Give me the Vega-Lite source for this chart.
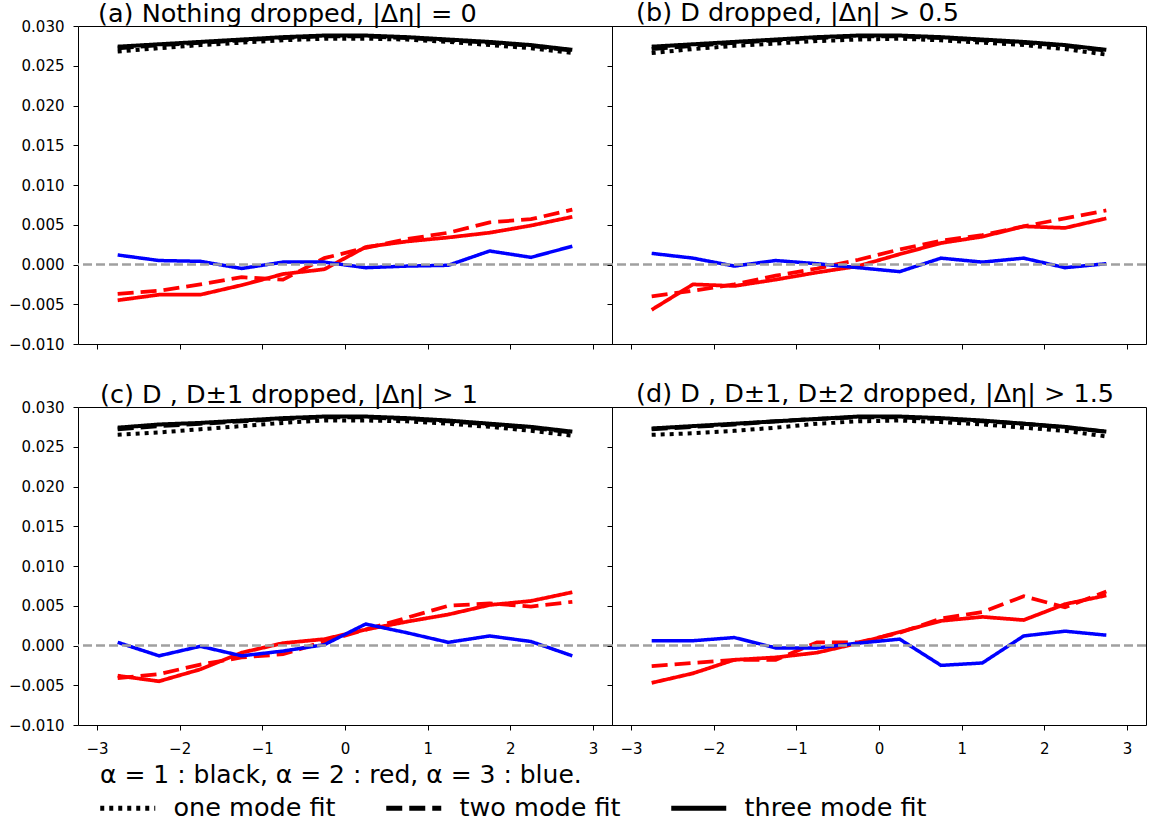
{
"$schema": "https://vega.github.io/schema/vega-lite/v6.json",
"padding": {"left": 7, "top": 0, "right": 16, "bottom": 5},
"background": "white",
"config": {
  "font": "DejaVu Sans",
  "view": {"stroke": "black", "strokeWidth": 1},
  "axis": {"grid": false, "domain": false, "tickColor": "black", "tickSize": 5, "tickWidth": 1, "labelColor": "black", "labelFontSize": 15, "labelFont": "DejaVu Sans", "labelOverlap": false},
  "title": {"anchor": "start", "frame": "group", "fontSize": 25.5, "fontWeight": "normal", "font": "DejaVu Sans", "offset": 0, "baseline": "alphabetic", "color": "black"},
  "legend": {"orient": "none", "legendX": 22, "legendY": 737, "direction": "horizontal", "padding": 0, "titleFontSize": 25, "titleFontWeight": "normal", "titleFont": "DejaVu Sans", "titleColor": "black", "titlePadding": 7, "titleLimit": 1000, "labelFontSize": 25.5, "labelFont": "DejaVu Sans", "labelColor": "black", "labelLimit": 400, "symbolSize": 400, "symbolStrokeWidth": 5, "symbolStrokeColor": "black", "symbolType": "M-1.25,0H4.25", "columnPadding": 40, "labelOffset": 48}
},
"data": {"values": [
{"panel":"a","fit":"one mode fit","alpha":"1","x":-2.75,"y":0.0268},{"panel":"a","fit":"one mode fit","alpha":"1","x":-2.25,"y":0.0272},{"panel":"a","fit":"one mode fit","alpha":"1","x":-1.75,"y":0.0276},{"panel":"a","fit":"one mode fit","alpha":"1","x":-1.25,"y":0.0279},{"panel":"a","fit":"one mode fit","alpha":"1","x":-0.75,"y":0.0282},{"panel":"a","fit":"one mode fit","alpha":"1","x":-0.25,"y":0.0284},{"panel":"a","fit":"one mode fit","alpha":"1","x":0.25,"y":0.0284},{"panel":"a","fit":"one mode fit","alpha":"1","x":0.75,"y":0.0283},{"panel":"a","fit":"one mode fit","alpha":"1","x":1.25,"y":0.0280},{"panel":"a","fit":"one mode fit","alpha":"1","x":1.75,"y":0.0276},{"panel":"a","fit":"one mode fit","alpha":"1","x":2.25,"y":0.0272},{"panel":"a","fit":"one mode fit","alpha":"1","x":2.75,"y":0.0266},
{"panel":"a","fit":"two mode fit","alpha":"1","x":-2.75,"y":0.0272},{"panel":"a","fit":"two mode fit","alpha":"1","x":-2.25,"y":0.0276},{"panel":"a","fit":"two mode fit","alpha":"1","x":-1.75,"y":0.0279},{"panel":"a","fit":"two mode fit","alpha":"1","x":-1.25,"y":0.0282},{"panel":"a","fit":"two mode fit","alpha":"1","x":-0.75,"y":0.0285},{"panel":"a","fit":"two mode fit","alpha":"1","x":-0.25,"y":0.0287},{"panel":"a","fit":"two mode fit","alpha":"1","x":0.25,"y":0.0287},{"panel":"a","fit":"two mode fit","alpha":"1","x":0.75,"y":0.0285},{"panel":"a","fit":"two mode fit","alpha":"1","x":1.25,"y":0.0282},{"panel":"a","fit":"two mode fit","alpha":"1","x":1.75,"y":0.0279},{"panel":"a","fit":"two mode fit","alpha":"1","x":2.25,"y":0.0275},{"panel":"a","fit":"two mode fit","alpha":"1","x":2.75,"y":0.0269},
{"panel":"a","fit":"three mode fit","alpha":"1","x":-2.75,"y":0.0274},{"panel":"a","fit":"three mode fit","alpha":"1","x":-2.25,"y":0.0277},{"panel":"a","fit":"three mode fit","alpha":"1","x":-1.75,"y":0.0280},{"panel":"a","fit":"three mode fit","alpha":"1","x":-1.25,"y":0.0283},{"panel":"a","fit":"three mode fit","alpha":"1","x":-0.75,"y":0.0286},{"panel":"a","fit":"three mode fit","alpha":"1","x":-0.25,"y":0.0288},{"panel":"a","fit":"three mode fit","alpha":"1","x":0.25,"y":0.0288},{"panel":"a","fit":"three mode fit","alpha":"1","x":0.75,"y":0.0286},{"panel":"a","fit":"three mode fit","alpha":"1","x":1.25,"y":0.0283},{"panel":"a","fit":"three mode fit","alpha":"1","x":1.75,"y":0.0280},{"panel":"a","fit":"three mode fit","alpha":"1","x":2.25,"y":0.0276},{"panel":"a","fit":"three mode fit","alpha":"1","x":2.75,"y":0.0270},
{"panel":"a","fit":"two mode fit","alpha":"2","x":-2.75,"y":-0.0037},{"panel":"a","fit":"two mode fit","alpha":"2","x":-2.25,"y":-0.0033},{"panel":"a","fit":"two mode fit","alpha":"2","x":-1.75,"y":-0.0025},{"panel":"a","fit":"two mode fit","alpha":"2","x":-1.25,"y":-0.0016},{"panel":"a","fit":"two mode fit","alpha":"2","x":-0.75,"y":-0.0019},{"panel":"a","fit":"two mode fit","alpha":"2","x":-0.25,"y":0.0008},{"panel":"a","fit":"two mode fit","alpha":"2","x":0.25,"y":0.0021},{"panel":"a","fit":"two mode fit","alpha":"2","x":0.75,"y":0.0032},{"panel":"a","fit":"two mode fit","alpha":"2","x":1.25,"y":0.0040},{"panel":"a","fit":"two mode fit","alpha":"2","x":1.75,"y":0.0053},{"panel":"a","fit":"two mode fit","alpha":"2","x":2.25,"y":0.0057},{"panel":"a","fit":"two mode fit","alpha":"2","x":2.75,"y":0.0069},
{"panel":"a","fit":"three mode fit","alpha":"2","x":-2.75,"y":-0.0045},{"panel":"a","fit":"three mode fit","alpha":"2","x":-2.25,"y":-0.0038},{"panel":"a","fit":"three mode fit","alpha":"2","x":-1.75,"y":-0.0038},{"panel":"a","fit":"three mode fit","alpha":"2","x":-1.25,"y":-0.0026},{"panel":"a","fit":"three mode fit","alpha":"2","x":-0.75,"y":-0.0012},{"panel":"a","fit":"three mode fit","alpha":"2","x":-0.25,"y":-0.0006},{"panel":"a","fit":"three mode fit","alpha":"2","x":0.25,"y":0.0022},{"panel":"a","fit":"three mode fit","alpha":"2","x":0.75,"y":0.0029},{"panel":"a","fit":"three mode fit","alpha":"2","x":1.25,"y":0.0034},{"panel":"a","fit":"three mode fit","alpha":"2","x":1.75,"y":0.0040},{"panel":"a","fit":"three mode fit","alpha":"2","x":2.25,"y":0.0049},{"panel":"a","fit":"three mode fit","alpha":"2","x":2.75,"y":0.0060},
{"panel":"a","fit":"three mode fit","alpha":"3","x":-2.75,"y":0.0012},{"panel":"a","fit":"three mode fit","alpha":"3","x":-2.25,"y":0.0005},{"panel":"a","fit":"three mode fit","alpha":"3","x":-1.75,"y":0.0004},{"panel":"a","fit":"three mode fit","alpha":"3","x":-1.25,"y":-0.0005},{"panel":"a","fit":"three mode fit","alpha":"3","x":-0.75,"y":0.0003},{"panel":"a","fit":"three mode fit","alpha":"3","x":-0.25,"y":0.0003},{"panel":"a","fit":"three mode fit","alpha":"3","x":0.25,"y":-0.0004},{"panel":"a","fit":"three mode fit","alpha":"3","x":0.75,"y":-0.0002},{"panel":"a","fit":"three mode fit","alpha":"3","x":1.25,"y":-0.0001},{"panel":"a","fit":"three mode fit","alpha":"3","x":1.75,"y":0.0017},{"panel":"a","fit":"three mode fit","alpha":"3","x":2.25,"y":0.0009},{"panel":"a","fit":"three mode fit","alpha":"3","x":2.75,"y":0.0023},
{"panel":"b","fit":"one mode fit","alpha":"1","x":-2.75,"y":0.0266},{"panel":"b","fit":"one mode fit","alpha":"1","x":-2.25,"y":0.0271},{"panel":"b","fit":"one mode fit","alpha":"1","x":-1.75,"y":0.0275},{"panel":"b","fit":"one mode fit","alpha":"1","x":-1.25,"y":0.0278},{"panel":"b","fit":"one mode fit","alpha":"1","x":-0.75,"y":0.0281},{"panel":"b","fit":"one mode fit","alpha":"1","x":-0.25,"y":0.0283},{"panel":"b","fit":"one mode fit","alpha":"1","x":0.25,"y":0.0284},{"panel":"b","fit":"one mode fit","alpha":"1","x":0.75,"y":0.0282},{"panel":"b","fit":"one mode fit","alpha":"1","x":1.25,"y":0.0279},{"panel":"b","fit":"one mode fit","alpha":"1","x":1.75,"y":0.0276},{"panel":"b","fit":"one mode fit","alpha":"1","x":2.25,"y":0.0271},{"panel":"b","fit":"one mode fit","alpha":"1","x":2.75,"y":0.0264},
{"panel":"b","fit":"two mode fit","alpha":"1","x":-2.75,"y":0.0271},{"panel":"b","fit":"two mode fit","alpha":"1","x":-2.25,"y":0.0275},{"panel":"b","fit":"two mode fit","alpha":"1","x":-1.75,"y":0.0279},{"panel":"b","fit":"two mode fit","alpha":"1","x":-1.25,"y":0.0282},{"panel":"b","fit":"two mode fit","alpha":"1","x":-0.75,"y":0.0285},{"panel":"b","fit":"two mode fit","alpha":"1","x":-0.25,"y":0.0287},{"panel":"b","fit":"two mode fit","alpha":"1","x":0.25,"y":0.0287},{"panel":"b","fit":"two mode fit","alpha":"1","x":0.75,"y":0.0285},{"panel":"b","fit":"two mode fit","alpha":"1","x":1.25,"y":0.0282},{"panel":"b","fit":"two mode fit","alpha":"1","x":1.75,"y":0.0279},{"panel":"b","fit":"two mode fit","alpha":"1","x":2.25,"y":0.0275},{"panel":"b","fit":"two mode fit","alpha":"1","x":2.75,"y":0.0269},
{"panel":"b","fit":"three mode fit","alpha":"1","x":-2.75,"y":0.0274},{"panel":"b","fit":"three mode fit","alpha":"1","x":-2.25,"y":0.0277},{"panel":"b","fit":"three mode fit","alpha":"1","x":-1.75,"y":0.0280},{"panel":"b","fit":"three mode fit","alpha":"1","x":-1.25,"y":0.0283},{"panel":"b","fit":"three mode fit","alpha":"1","x":-0.75,"y":0.0286},{"panel":"b","fit":"three mode fit","alpha":"1","x":-0.25,"y":0.0288},{"panel":"b","fit":"three mode fit","alpha":"1","x":0.25,"y":0.0288},{"panel":"b","fit":"three mode fit","alpha":"1","x":0.75,"y":0.0286},{"panel":"b","fit":"three mode fit","alpha":"1","x":1.25,"y":0.0283},{"panel":"b","fit":"three mode fit","alpha":"1","x":1.75,"y":0.0280},{"panel":"b","fit":"three mode fit","alpha":"1","x":2.25,"y":0.0276},{"panel":"b","fit":"three mode fit","alpha":"1","x":2.75,"y":0.0270},
{"panel":"b","fit":"two mode fit","alpha":"2","x":-2.75,"y":-0.0040},{"panel":"b","fit":"two mode fit","alpha":"2","x":-2.25,"y":-0.0033},{"panel":"b","fit":"two mode fit","alpha":"2","x":-1.75,"y":-0.0025},{"panel":"b","fit":"two mode fit","alpha":"2","x":-1.25,"y":-0.0014},{"panel":"b","fit":"two mode fit","alpha":"2","x":-0.75,"y":-0.0005},{"panel":"b","fit":"two mode fit","alpha":"2","x":-0.25,"y":0.0006},{"panel":"b","fit":"two mode fit","alpha":"2","x":0.25,"y":0.0019},{"panel":"b","fit":"two mode fit","alpha":"2","x":0.75,"y":0.0030},{"panel":"b","fit":"two mode fit","alpha":"2","x":1.25,"y":0.0037},{"panel":"b","fit":"two mode fit","alpha":"2","x":1.75,"y":0.0048},{"panel":"b","fit":"two mode fit","alpha":"2","x":2.25,"y":0.0058},{"panel":"b","fit":"two mode fit","alpha":"2","x":2.75,"y":0.0068},
{"panel":"b","fit":"three mode fit","alpha":"2","x":-2.75,"y":-0.0057},{"panel":"b","fit":"three mode fit","alpha":"2","x":-2.25,"y":-0.0025},{"panel":"b","fit":"three mode fit","alpha":"2","x":-1.75,"y":-0.0027},{"panel":"b","fit":"three mode fit","alpha":"2","x":-1.25,"y":-0.0019},{"panel":"b","fit":"three mode fit","alpha":"2","x":-0.75,"y":-0.0010},{"panel":"b","fit":"three mode fit","alpha":"2","x":-0.25,"y":-0.0002},{"panel":"b","fit":"three mode fit","alpha":"2","x":0.25,"y":0.0013},{"panel":"b","fit":"three mode fit","alpha":"2","x":0.75,"y":0.0027},{"panel":"b","fit":"three mode fit","alpha":"2","x":1.25,"y":0.0035},{"panel":"b","fit":"three mode fit","alpha":"2","x":1.75,"y":0.0048},{"panel":"b","fit":"three mode fit","alpha":"2","x":2.25,"y":0.0046},{"panel":"b","fit":"three mode fit","alpha":"2","x":2.75,"y":0.0058},
{"panel":"b","fit":"three mode fit","alpha":"3","x":-2.75,"y":0.0014},{"panel":"b","fit":"three mode fit","alpha":"3","x":-2.25,"y":0.0008},{"panel":"b","fit":"three mode fit","alpha":"3","x":-1.75,"y":-0.0002},{"panel":"b","fit":"three mode fit","alpha":"3","x":-1.25,"y":0.0005},{"panel":"b","fit":"three mode fit","alpha":"3","x":-0.75,"y":0.0001},{"panel":"b","fit":"three mode fit","alpha":"3","x":-0.25,"y":-0.0004},{"panel":"b","fit":"three mode fit","alpha":"3","x":0.25,"y":-0.0009},{"panel":"b","fit":"three mode fit","alpha":"3","x":0.75,"y":0.0008},{"panel":"b","fit":"three mode fit","alpha":"3","x":1.25,"y":0.0003},{"panel":"b","fit":"three mode fit","alpha":"3","x":1.75,"y":0.0008},{"panel":"b","fit":"three mode fit","alpha":"3","x":2.25,"y":-0.0004},{"panel":"b","fit":"three mode fit","alpha":"3","x":2.75,"y":0.0001},
{"panel":"c","fit":"one mode fit","alpha":"1","x":-2.75,"y":0.0265},{"panel":"c","fit":"one mode fit","alpha":"1","x":-2.25,"y":0.0268},{"panel":"c","fit":"one mode fit","alpha":"1","x":-1.75,"y":0.0272},{"panel":"c","fit":"one mode fit","alpha":"1","x":-1.25,"y":0.0276},{"panel":"c","fit":"one mode fit","alpha":"1","x":-0.75,"y":0.0280},{"panel":"c","fit":"one mode fit","alpha":"1","x":-0.25,"y":0.0283},{"panel":"c","fit":"one mode fit","alpha":"1","x":0.25,"y":0.0283},{"panel":"c","fit":"one mode fit","alpha":"1","x":0.75,"y":0.0282},{"panel":"c","fit":"one mode fit","alpha":"1","x":1.25,"y":0.0279},{"panel":"c","fit":"one mode fit","alpha":"1","x":1.75,"y":0.0275},{"panel":"c","fit":"one mode fit","alpha":"1","x":2.25,"y":0.0270},{"panel":"c","fit":"one mode fit","alpha":"1","x":2.75,"y":0.0264},
{"panel":"c","fit":"two mode fit","alpha":"1","x":-2.75,"y":0.0272},{"panel":"c","fit":"two mode fit","alpha":"1","x":-2.25,"y":0.0276},{"panel":"c","fit":"two mode fit","alpha":"1","x":-1.75,"y":0.0279},{"panel":"c","fit":"two mode fit","alpha":"1","x":-1.25,"y":0.0282},{"panel":"c","fit":"two mode fit","alpha":"1","x":-0.75,"y":0.0285},{"panel":"c","fit":"two mode fit","alpha":"1","x":-0.25,"y":0.0287},{"panel":"c","fit":"two mode fit","alpha":"1","x":0.25,"y":0.0287},{"panel":"c","fit":"two mode fit","alpha":"1","x":0.75,"y":0.0285},{"panel":"c","fit":"two mode fit","alpha":"1","x":1.25,"y":0.0282},{"panel":"c","fit":"two mode fit","alpha":"1","x":1.75,"y":0.0278},{"panel":"c","fit":"two mode fit","alpha":"1","x":2.25,"y":0.0274},{"panel":"c","fit":"two mode fit","alpha":"1","x":2.75,"y":0.0268},
{"panel":"c","fit":"three mode fit","alpha":"1","x":-2.75,"y":0.0274},{"panel":"c","fit":"three mode fit","alpha":"1","x":-2.25,"y":0.0278},{"panel":"c","fit":"three mode fit","alpha":"1","x":-1.75,"y":0.0280},{"panel":"c","fit":"three mode fit","alpha":"1","x":-1.25,"y":0.0283},{"panel":"c","fit":"three mode fit","alpha":"1","x":-0.75,"y":0.0286},{"panel":"c","fit":"three mode fit","alpha":"1","x":-0.25,"y":0.0288},{"panel":"c","fit":"three mode fit","alpha":"1","x":0.25,"y":0.0288},{"panel":"c","fit":"three mode fit","alpha":"1","x":0.75,"y":0.0286},{"panel":"c","fit":"three mode fit","alpha":"1","x":1.25,"y":0.0283},{"panel":"c","fit":"three mode fit","alpha":"1","x":1.75,"y":0.0279},{"panel":"c","fit":"three mode fit","alpha":"1","x":2.25,"y":0.0275},{"panel":"c","fit":"three mode fit","alpha":"1","x":2.75,"y":0.0269},
{"panel":"c","fit":"two mode fit","alpha":"2","x":-2.75,"y":-0.0041},{"panel":"c","fit":"two mode fit","alpha":"2","x":-2.25,"y":-0.0036},{"panel":"c","fit":"two mode fit","alpha":"2","x":-1.75,"y":-0.0024},{"panel":"c","fit":"two mode fit","alpha":"2","x":-1.25,"y":-0.0015},{"panel":"c","fit":"two mode fit","alpha":"2","x":-0.75,"y":-0.0011},{"panel":"c","fit":"two mode fit","alpha":"2","x":-0.25,"y":0.0005},{"panel":"c","fit":"two mode fit","alpha":"2","x":0.25,"y":0.0020},{"panel":"c","fit":"two mode fit","alpha":"2","x":0.75,"y":0.0035},{"panel":"c","fit":"two mode fit","alpha":"2","x":1.25,"y":0.0050},{"panel":"c","fit":"two mode fit","alpha":"2","x":1.75,"y":0.0053},{"panel":"c","fit":"two mode fit","alpha":"2","x":2.25,"y":0.0049},{"panel":"c","fit":"two mode fit","alpha":"2","x":2.75,"y":0.0055},
{"panel":"c","fit":"three mode fit","alpha":"2","x":-2.75,"y":-0.0038},{"panel":"c","fit":"three mode fit","alpha":"2","x":-2.25,"y":-0.0045},{"panel":"c","fit":"three mode fit","alpha":"2","x":-1.75,"y":-0.0030},{"panel":"c","fit":"three mode fit","alpha":"2","x":-1.25,"y":-0.0009},{"panel":"c","fit":"three mode fit","alpha":"2","x":-0.75,"y":0.0003},{"panel":"c","fit":"three mode fit","alpha":"2","x":-0.25,"y":0.0008},{"panel":"c","fit":"three mode fit","alpha":"2","x":0.25,"y":0.0020},{"panel":"c","fit":"three mode fit","alpha":"2","x":0.75,"y":0.0030},{"panel":"c","fit":"three mode fit","alpha":"2","x":1.25,"y":0.0039},{"panel":"c","fit":"three mode fit","alpha":"2","x":1.75,"y":0.0051},{"panel":"c","fit":"three mode fit","alpha":"2","x":2.25,"y":0.0056},{"panel":"c","fit":"three mode fit","alpha":"2","x":2.75,"y":0.0067},
{"panel":"c","fit":"three mode fit","alpha":"3","x":-2.75,"y":0.0004},{"panel":"c","fit":"three mode fit","alpha":"3","x":-2.25,"y":-0.0013},{"panel":"c","fit":"three mode fit","alpha":"3","x":-1.75,"y":-0.0001},{"panel":"c","fit":"three mode fit","alpha":"3","x":-1.25,"y":-0.0013},{"panel":"c","fit":"three mode fit","alpha":"3","x":-0.75,"y":-0.0007},{"panel":"c","fit":"three mode fit","alpha":"3","x":-0.25,"y":0.0001},{"panel":"c","fit":"three mode fit","alpha":"3","x":0.25,"y":0.0027},{"panel":"c","fit":"three mode fit","alpha":"3","x":0.75,"y":0.0016},{"panel":"c","fit":"three mode fit","alpha":"3","x":1.25,"y":0.0004},{"panel":"c","fit":"three mode fit","alpha":"3","x":1.75,"y":0.0012},{"panel":"c","fit":"three mode fit","alpha":"3","x":2.25,"y":0.0005},{"panel":"c","fit":"three mode fit","alpha":"3","x":2.75,"y":-0.0013},
{"panel":"d","fit":"one mode fit","alpha":"1","x":-2.75,"y":0.0265},{"panel":"d","fit":"one mode fit","alpha":"1","x":-2.25,"y":0.0267},{"panel":"d","fit":"one mode fit","alpha":"1","x":-1.75,"y":0.0270},{"panel":"d","fit":"one mode fit","alpha":"1","x":-1.25,"y":0.0274},{"panel":"d","fit":"one mode fit","alpha":"1","x":-0.75,"y":0.0279},{"panel":"d","fit":"one mode fit","alpha":"1","x":-0.25,"y":0.0282},{"panel":"d","fit":"one mode fit","alpha":"1","x":0.25,"y":0.0283},{"panel":"d","fit":"one mode fit","alpha":"1","x":0.75,"y":0.0281},{"panel":"d","fit":"one mode fit","alpha":"1","x":1.25,"y":0.0278},{"panel":"d","fit":"one mode fit","alpha":"1","x":1.75,"y":0.0274},{"panel":"d","fit":"one mode fit","alpha":"1","x":2.25,"y":0.0270},{"panel":"d","fit":"one mode fit","alpha":"1","x":2.75,"y":0.0263},
{"panel":"d","fit":"two mode fit","alpha":"1","x":-2.75,"y":0.0272},{"panel":"d","fit":"two mode fit","alpha":"1","x":-2.25,"y":0.0275},{"panel":"d","fit":"two mode fit","alpha":"1","x":-1.75,"y":0.0278},{"panel":"d","fit":"two mode fit","alpha":"1","x":-1.25,"y":0.0282},{"panel":"d","fit":"two mode fit","alpha":"1","x":-0.75,"y":0.0285},{"panel":"d","fit":"two mode fit","alpha":"1","x":-0.25,"y":0.0287},{"panel":"d","fit":"two mode fit","alpha":"1","x":0.25,"y":0.0287},{"panel":"d","fit":"two mode fit","alpha":"1","x":0.75,"y":0.0285},{"panel":"d","fit":"two mode fit","alpha":"1","x":1.25,"y":0.0282},{"panel":"d","fit":"two mode fit","alpha":"1","x":1.75,"y":0.0279},{"panel":"d","fit":"two mode fit","alpha":"1","x":2.25,"y":0.0274},{"panel":"d","fit":"two mode fit","alpha":"1","x":2.75,"y":0.0269},
{"panel":"d","fit":"three mode fit","alpha":"1","x":-2.75,"y":0.0273},{"panel":"d","fit":"three mode fit","alpha":"1","x":-2.25,"y":0.0276},{"panel":"d","fit":"three mode fit","alpha":"1","x":-1.75,"y":0.0279},{"panel":"d","fit":"three mode fit","alpha":"1","x":-1.25,"y":0.0282},{"panel":"d","fit":"three mode fit","alpha":"1","x":-0.75,"y":0.0285},{"panel":"d","fit":"three mode fit","alpha":"1","x":-0.25,"y":0.0288},{"panel":"d","fit":"three mode fit","alpha":"1","x":0.25,"y":0.0288},{"panel":"d","fit":"three mode fit","alpha":"1","x":0.75,"y":0.0286},{"panel":"d","fit":"three mode fit","alpha":"1","x":1.25,"y":0.0283},{"panel":"d","fit":"three mode fit","alpha":"1","x":1.75,"y":0.0279},{"panel":"d","fit":"three mode fit","alpha":"1","x":2.25,"y":0.0275},{"panel":"d","fit":"three mode fit","alpha":"1","x":2.75,"y":0.0269},
{"panel":"d","fit":"two mode fit","alpha":"2","x":-2.75,"y":-0.0026},{"panel":"d","fit":"two mode fit","alpha":"2","x":-2.25,"y":-0.0022},{"panel":"d","fit":"two mode fit","alpha":"2","x":-1.75,"y":-0.0018},{"panel":"d","fit":"two mode fit","alpha":"2","x":-1.25,"y":-0.0018},{"panel":"d","fit":"two mode fit","alpha":"2","x":-0.75,"y":0.0004},{"panel":"d","fit":"two mode fit","alpha":"2","x":-0.25,"y":0.0004},{"panel":"d","fit":"two mode fit","alpha":"2","x":0.25,"y":0.0016},{"panel":"d","fit":"two mode fit","alpha":"2","x":0.75,"y":0.0034},{"panel":"d","fit":"two mode fit","alpha":"2","x":1.25,"y":0.0042},{"panel":"d","fit":"two mode fit","alpha":"2","x":1.75,"y":0.0062},{"panel":"d","fit":"two mode fit","alpha":"2","x":2.25,"y":0.0048},{"panel":"d","fit":"two mode fit","alpha":"2","x":2.75,"y":0.0068},
{"panel":"d","fit":"three mode fit","alpha":"2","x":-2.75,"y":-0.0047},{"panel":"d","fit":"three mode fit","alpha":"2","x":-2.25,"y":-0.0035},{"panel":"d","fit":"three mode fit","alpha":"2","x":-1.75,"y":-0.0018},{"panel":"d","fit":"three mode fit","alpha":"2","x":-1.25,"y":-0.0015},{"panel":"d","fit":"three mode fit","alpha":"2","x":-0.75,"y":-0.0009},{"panel":"d","fit":"three mode fit","alpha":"2","x":-0.25,"y":0.0003},{"panel":"d","fit":"three mode fit","alpha":"2","x":0.25,"y":0.0017},{"panel":"d","fit":"three mode fit","alpha":"2","x":0.75,"y":0.0031},{"panel":"d","fit":"three mode fit","alpha":"2","x":1.25,"y":0.0036},{"panel":"d","fit":"three mode fit","alpha":"2","x":1.75,"y":0.0032},{"panel":"d","fit":"three mode fit","alpha":"2","x":2.25,"y":0.0052},{"panel":"d","fit":"three mode fit","alpha":"2","x":2.75,"y":0.0063},
{"panel":"d","fit":"three mode fit","alpha":"3","x":-2.75,"y":0.0006},{"panel":"d","fit":"three mode fit","alpha":"3","x":-2.25,"y":0.0006},{"panel":"d","fit":"three mode fit","alpha":"3","x":-1.75,"y":0.0010},{"panel":"d","fit":"three mode fit","alpha":"3","x":-1.25,"y":-0.0003},{"panel":"d","fit":"three mode fit","alpha":"3","x":-0.75,"y":-0.0003},{"panel":"d","fit":"three mode fit","alpha":"3","x":-0.25,"y":0.0003},{"panel":"d","fit":"three mode fit","alpha":"3","x":0.25,"y":0.0008},{"panel":"d","fit":"three mode fit","alpha":"3","x":0.75,"y":-0.0025},{"panel":"d","fit":"three mode fit","alpha":"3","x":1.25,"y":-0.0022},{"panel":"d","fit":"three mode fit","alpha":"3","x":1.75,"y":0.0012},{"panel":"d","fit":"three mode fit","alpha":"3","x":2.25,"y":0.0018},{"panel":"d","fit":"three mode fit","alpha":"3","x":2.75,"y":0.0013}
]},
"columns": 2,
"spacing": {"row": 63, "column": 0},
"bounds": "flush",
"concat": [
{
 "width": 534, "height": 318,
 "title": {"text": "(a) Nothing dropped, |Δη| = 0", "dx": 20, "offset": -8},
 "layer": [
  {"transform": [{"filter": "datum.panel == 'a'"}],
   "mark": {"type": "line"},
   "encoding": {
     "x": {"field": "x", "type": "quantitative", "scale": {"domain": [-3.23, 3.23], "nice": false, "zero": false}, "axis": {"values": [-3,-2,-1,0,1,2,3], "labels": false, "title": null}},
     "y": {"field": "y", "type": "quantitative", "scale": {"domain": [-0.01, 0.03], "nice": false, "zero": false}, "axis": {"values": [-0.01,-0.005,0,0.005,0.01,0.015,0.02,0.025,0.03], "format": ".3f", "labelPadding": 9, "labelOverlap": false, "title": null}},
     "color": {"field": "alpha", "type": "nominal", "scale": {"domain": ["1","2","3"], "range": ["#000000","#ff0000","#0000ff"]}, "legend": null},
     "strokeDash": {"field": "fit", "type": "nominal", "scale": {"domain": ["one mode fit","two mode fit","three mode fit"], "range": [[4,5],[16,7],[1,0]]}, "legend": {"title": "α = 1 : black, α = 2 : red, α = 3 : blue."}},
     "strokeWidth": {"field": "alpha", "type": "ordinal", "scale": {"domain": ["1","2","3"], "range": [4, 3.5, 3.5]}, "legend": null}
   }},
  {"data": {"values": [{}]}, "mark": {"type": "rule", "color": "#a0a0a0", "strokeDash": [9, 4], "strokeWidth": 2.5}, "encoding": {"y": {"datum": 0, "type": "quantitative", "scale": {"domain": [-0.01, 0.03], "nice": false, "zero": false}, "axis": {"values": [-0.01,-0.005,0,0.005,0.01,0.015,0.02,0.025,0.03], "format": ".3f", "labelPadding": 9, "labelOverlap": false, "title": null}}}}
 ]
},
{
 "width": 534, "height": 318,
 "title": {"text": "(b) D dropped, |Δη| > 0.5", "dx": 24, "offset": -0.5},
 "layer": [
  {"transform": [{"filter": "datum.panel == 'b'"}],
   "mark": {"type": "line"},
   "encoding": {
     "x": {"field": "x", "type": "quantitative", "scale": {"domain": [-3.23, 3.23], "nice": false, "zero": false}, "axis": {"values": [-3,-2,-1,0,1,2,3], "labels": false, "title": null}},
     "y": {"field": "y", "type": "quantitative", "scale": {"domain": [-0.01, 0.03], "nice": false, "zero": false}, "axis": {"values": [-0.01,-0.005,0,0.005,0.01,0.015,0.02,0.025,0.03], "labels": false, "title": null}},
     "color": {"field": "alpha", "type": "nominal", "scale": {"domain": ["1","2","3"], "range": ["#000000","#ff0000","#0000ff"]}, "legend": null},
     "strokeDash": {"field": "fit", "type": "nominal", "scale": {"domain": ["one mode fit","two mode fit","three mode fit"], "range": [[4,5],[16,7],[1,0]]}, "legend": {"title": "α = 1 : black, α = 2 : red, α = 3 : blue."}},
     "strokeWidth": {"field": "alpha", "type": "ordinal", "scale": {"domain": ["1","2","3"], "range": [4, 3.5, 3.5]}, "legend": null}
   }},
  {"data": {"values": [{}]}, "mark": {"type": "rule", "color": "#a0a0a0", "strokeDash": [9, 4], "strokeWidth": 2.5}, "encoding": {"y": {"datum": 0, "type": "quantitative", "scale": {"domain": [-0.01, 0.03], "nice": false, "zero": false}, "axis": {"values": [-0.01,-0.005,0,0.005,0.01,0.015,0.02,0.025,0.03], "labels": false, "title": null}}}}
 ]
},
{
 "width": 534, "height": 318,
 "title": {"text": "(c) D , D±1 dropped, |Δη| > 1", "dx": 22, "offset": -8},
 "layer": [
  {"transform": [{"filter": "datum.panel == 'c'"}],
   "mark": {"type": "line"},
   "encoding": {
     "x": {"field": "x", "type": "quantitative", "scale": {"domain": [-3.23, 3.23], "nice": false, "zero": false}, "axis": {"values": [-3,-2,-1,0,1,2,3], "format": "d", "labelPadding": 11, "title": null}},
     "y": {"field": "y", "type": "quantitative", "scale": {"domain": [-0.01, 0.03], "nice": false, "zero": false}, "axis": {"values": [-0.01,-0.005,0,0.005,0.01,0.015,0.02,0.025,0.03], "format": ".3f", "labelPadding": 9, "labelOverlap": false, "title": null}},
     "color": {"field": "alpha", "type": "nominal", "scale": {"domain": ["1","2","3"], "range": ["#000000","#ff0000","#0000ff"]}, "legend": null},
     "strokeDash": {"field": "fit", "type": "nominal", "scale": {"domain": ["one mode fit","two mode fit","three mode fit"], "range": [[4,5],[16,7],[1,0]]}, "legend": {"title": "α = 1 : black, α = 2 : red, α = 3 : blue."}},
     "strokeWidth": {"field": "alpha", "type": "ordinal", "scale": {"domain": ["1","2","3"], "range": [4, 3.5, 3.5]}, "legend": null}
   }},
  {"data": {"values": [{}]}, "mark": {"type": "rule", "color": "#a0a0a0", "strokeDash": [9, 4], "strokeWidth": 2.5}, "encoding": {"y": {"datum": 0, "type": "quantitative", "scale": {"domain": [-0.01, 0.03], "nice": false, "zero": false}, "axis": {"values": [-0.01,-0.005,0,0.005,0.01,0.015,0.02,0.025,0.03], "format": ".3f", "labelPadding": 9, "labelOverlap": false, "title": null}}}}
 ]
},
{
 "width": 534, "height": 318,
 "title": {"text": "(d) D , D±1, D±2 dropped, |Δη| > 1.5", "dx": 24, "offset": -0.5},
 "layer": [
  {"transform": [{"filter": "datum.panel == 'd'"}],
   "mark": {"type": "line"},
   "encoding": {
     "x": {"field": "x", "type": "quantitative", "scale": {"domain": [-3.23, 3.23], "nice": false, "zero": false}, "axis": {"values": [-3,-2,-1,0,1,2,3], "format": "d", "labelPadding": 11, "title": null}},
     "y": {"field": "y", "type": "quantitative", "scale": {"domain": [-0.01, 0.03], "nice": false, "zero": false}, "axis": {"values": [-0.01,-0.005,0,0.005,0.01,0.015,0.02,0.025,0.03], "labels": false, "title": null}},
     "color": {"field": "alpha", "type": "nominal", "scale": {"domain": ["1","2","3"], "range": ["#000000","#ff0000","#0000ff"]}, "legend": null},
     "strokeDash": {"field": "fit", "type": "nominal", "scale": {"domain": ["one mode fit","two mode fit","three mode fit"], "range": [[4,5],[16,7],[1,0]]}, "legend": {"title": "α = 1 : black, α = 2 : red, α = 3 : blue."}},
     "strokeWidth": {"field": "alpha", "type": "ordinal", "scale": {"domain": ["1","2","3"], "range": [4, 3.5, 3.5]}, "legend": null}
   }},
  {"data": {"values": [{}]}, "mark": {"type": "rule", "color": "#a0a0a0", "strokeDash": [9, 4], "strokeWidth": 2.5}, "encoding": {"y": {"datum": 0, "type": "quantitative", "scale": {"domain": [-0.01, 0.03], "nice": false, "zero": false}, "axis": {"values": [-0.01,-0.005,0,0.005,0.01,0.015,0.02,0.025,0.03], "labels": false, "title": null}}}}
 ]
}
]
}
